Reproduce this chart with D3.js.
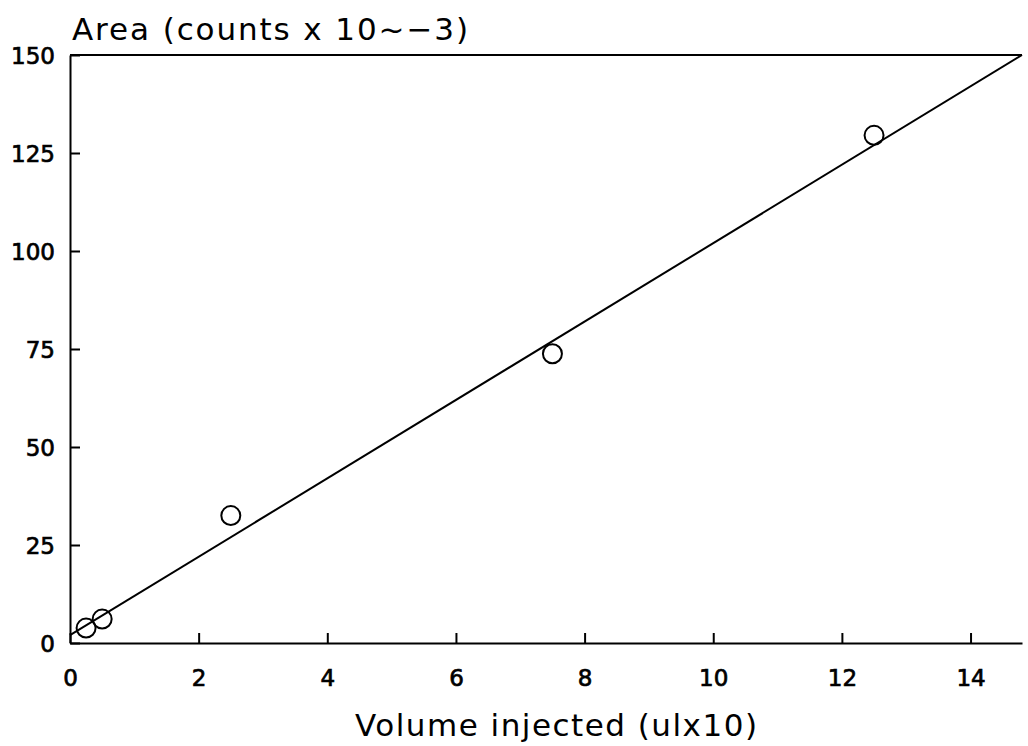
<!DOCTYPE html>
<html>
<head>
<meta charset="utf-8">
<script src="https://cdn.jsdelivr.net/npm/d3@7"></script>
<style>
  body { margin: 0; background: #fff; }
  text { font-family: "DejaVu Sans", sans-serif; fill: #000; }
</style>
</head>
<body>
<div id="chart"></div>
<script>
// data
var volume = [0.25, 0.5, 2.5, 7.5, 12.5];
var area = [3.8, 6.1, 32.5, 73.8, 129.5];
var fitIntercept = 2;
var fitSlope = 10;
var xTicks = [0, 2, 4, 6, 8, 10, 12, 14];
var yTicks = [0, 25, 50, 75, 100, 125, 150];

var svgwidth = 1028;
var svgheight = 746;

var margin = { top: 55, right: 6, bottom: 103, left: 70 };
var width = svgwidth - margin.left - margin.right;
var height = svgheight - margin.top - margin.bottom;

var svg = d3.select("#chart").append("svg")
  .attr("width", svgwidth)
  .attr("height", svgheight);

var chartgroup = svg.append("g")
  .attr("transform", `translate(${margin.left}, ${margin.top})`);

// scales
var xscale = d3.scaleLinear()
  .domain([0, 14.8])
  .range([0, width]);

var yscale = d3.scaleLinear()
  .domain([0, 150])
  .range([height, 0]);

// axes, ticks point inward
var xaxis = d3.axisBottom(xscale)
  .tickValues(xTicks)
  .tickSize(-10)
  .tickPadding(27)
  .tickSizeOuter(0);

var yaxis = d3.axisLeft(yscale)
  .tickValues(yTicks)
  .tickSize(-10)
  .tickPadding(15)
  .tickSizeOuter(0);

var gx = chartgroup.append("g")
  .attr("transform", `translate(0, ${height})`)
  .call(xaxis);

var gy = chartgroup.append("g")
  .call(yaxis);

[gx, gy].forEach(function(g) {
  g.selectAll("path, line").attr("stroke", "#000").attr("stroke-width", 2);
  g.selectAll("text")
    .attr("font-family", "DejaVu Sans, sans-serif")
    .attr("font-size", "23px")
    .attr("fill", "#000")
    .attr("stroke", "#000")
    .attr("stroke-width", 0.7);
});
gy.selectAll("text").attr("dy", "0.36em");

// top frame line
chartgroup.append("line")
  .attr("x1", 0)
  .attr("x2", width)
  .attr("y1", yscale(150))
  .attr("y2", yscale(150))
  .attr("stroke", "#000")
  .attr("stroke-width", 2);

// fitted line
var fitLine = d3.line()
  .x(d => xscale(d))
  .y(d => yscale(fitIntercept + fitSlope * d));

chartgroup.append("path")
  .datum([0, 14.8])
  .attr("d", fitLine)
  .attr("fill", "none")
  .attr("stroke", "#000")
  .attr("stroke-width", 2);

// points
var pts = volume.map(function(v, i) { return { x: v, y: area[i] }; });

chartgroup.selectAll("circle")
  .data(pts)
  .enter()
  .append("circle")
  .attr("cx", d => xscale(d.x))
  .attr("cy", d => yscale(d.y))
  .attr("r", 9.5)
  .attr("fill", "none")
  .attr("stroke", "#000")
  .attr("stroke-width", 2);

// axis labels
svg.append("text")
  .attr("x", 72)
  .attr("y", 40)
  .attr("font-size", "31px")
  .attr("textLength", 396)
  .attr("lengthAdjust", "spacing")
  .text("Area (counts x 10~\u22123)");

svg.append("text")
  .attr("x", 355)
  .attr("y", 736)
  .attr("font-size", "31px")
  .attr("textLength", 402)
  .attr("lengthAdjust", "spacing")
  .text("Volume injected (ulx10)");
</script>
</body>
</html>
